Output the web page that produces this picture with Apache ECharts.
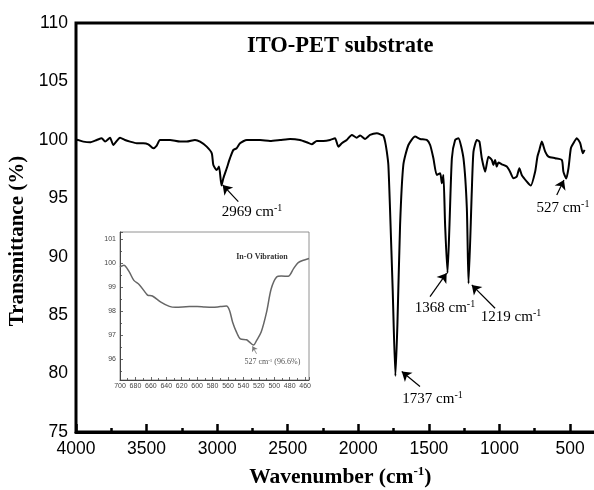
<!DOCTYPE html>
<html>
<head>
<meta charset="utf-8">
<script src="https://cdn.jsdelivr.net/npm/echarts@6/dist/echarts.min.js"></script>
<style>
  html, body { margin: 0; padding: 0; background: #fff; }
  #chart { width: 594px; height: 490px; }
</style>
</head>
<body>
<div id="chart"></div>
<script>
// 主光谱
var wavenumber = [4000, 3995, 3948, 3901, 3853, 3818, 3794, 3759, 3736, 3688, 3653, 3617, 3570, 3523, 3488, 3452, 3428, 3405, 3334, 3263, 3216, 3157, 3121, 3074, 3038, 3027, 3003, 2987, 2969, 2956, 2932, 2909, 2885, 2862, 2838, 2790, 2767, 2696, 2625, 2554, 2483, 2413, 2365, 2330, 2294, 2247, 2200, 2165, 2141, 2117, 2082, 2046, 2011, 1987, 1952, 1917, 1869, 1834, 1822, 1810, 1798, 1787, 1775, 1756, 1737, 1723, 1704, 1681, 1645, 1598, 1562, 1515, 1491, 1468, 1444, 1420, 1408, 1397, 1385, 1368, 1354, 1337, 1314, 1291, 1255, 1231, 1219, 1196, 1184, 1160, 1142, 1125, 1101, 1078, 1054, 1043, 1031, 1019, 1007, 983, 948, 925, 901, 877, 859, 842, 806, 778, 747, 731, 717, 700, 676, 653, 605, 558, 547, 527, 511, 494, 476, 452, 428, 409, 397];
var transmittance = [99.95, 100.0, 99.85, 99.79, 99.99, 100.14, 99.85, 100.19, 99.57, 100.19, 99.99, 99.85, 99.71, 99.71, 99.62, 99.28, 99.51, 99.99, 99.99, 99.85, 99.85, 99.99, 99.85, 99.42, 98.85, 97.85, 97.42, 97.71, 96.1, 96.71, 97.57, 98.43, 99.14, 99.28, 99.71, 99.99, 99.99, 99.99, 99.91, 99.99, 100.08, 99.99, 99.79, 99.62, 99.91, 99.91, 99.99, 100.14, 99.42, 99.71, 99.99, 100.42, 100.19, 100.37, 100.08, 100.42, 100.56, 100.42, 100.35, 99.85, 98.99, 97.85, 94.0, 87.02, 79.8, 84.17, 92.72, 97.85, 99.56, 100.28, 100.08, 99.99, 99.56, 98.43, 97.0, 97.14, 96.29, 97.0, 92.72, 88.6, 92.72, 98.43, 99.99, 100.14, 98.43, 94.15, 87.7, 95.57, 98.99, 99.99, 99.85, 98.43, 97.28, 98.56, 98.28, 97.85, 98.28, 97.71, 98.07, 97.91, 97.71, 97.28, 96.71, 96.86, 97.57, 97.0, 96.43, 96.09, 97.28, 98.56, 99.14, 99.85, 98.99, 98.56, 98.43, 98.28, 97.28, 96.7, 97.57, 99.28, 99.71, 100.14, 99.71, 98.85, 99.14];

// 标注的峰
var peakWavenumber = [2969, 1737, 1368, 1219, 527];

// 插图 (In-O 振动)
var insetWavenumber = [700, 695, 688, 682, 675, 666, 664, 658, 647, 636, 628, 610, 600, 590, 580, 570, 562, 558, 554, 549, 544, 536, 532, 527, 523, 517, 510, 504, 497, 491, 482, 475, 469, 460, 455];
var insetTransmittance = [99.85, 99.92, 99.64, 99.29, 99.11, 98.74, 98.67, 98.64, 98.39, 98.21, 98.17, 98.2, 98.2, 98.18, 98.17, 98.2, 98.22, 98.04, 97.55, 97.14, 96.86, 96.82, 96.72, 96.6, 96.79, 97.14, 97.97, 98.94, 99.43, 99.47, 99.46, 99.78, 100.03, 100.15, 100.2];

var serif = 'Liberation Serif';
var sans = 'Liberation Sans';

// 箭头和文字位置(数据坐标)
var notes = [
  { tip: [2961, 96.14], tail: [2850, 94.71], text: [2753, 93.86] },
  { tip: [1692, 80.17], tail: [1563, 78.89], text: [1474, 77.81] },
  { tip: [1374, 88.59], tail: [1492, 86.59], text: [1386, 85.62] },
  { tip: [1196, 87.59], tail: [1031, 85.59], text: [918, 84.85] },
  { tip: [543, 96.57], tail: [594, 95.29], text: [550, 94.17] }
];

var arrowLines = notes.map(function (n) {
  return [{ coord: n.tail }, { coord: n.tip }];
});
var noteLabels = notes.map(function (n, i) {
  return {
    coord: n.text,
    label: { formatter: '{t|' + peakWavenumber[i] + ' cm}{s|-1}' }
  };
});

var mainData = wavenumber.map(function (w, i) { return [w, transmittance[i]]; });
var insetData = insetWavenumber.map(function (w, i) { return [w, insetTransmittance[i]]; });

var chart = echarts.init(document.getElementById('chart'), null, { renderer: 'canvas' });

var option = {
  animation: false,
  backgroundColor: '#fff',
  title: {
    text: 'ITO-PET substrate',
    left: 247,
    top: 35,
    padding: 0,
    textStyle: { fontFamily: serif, fontWeight: 'bold', fontSize: 22.5, color: '#000' }
  },
  grid: [
    { left: 76, top: 23, width: 564.6, height: 409, outerBoundsMode: 'none', containLabel: false,
      show: true, borderColor: '#000', borderWidth: 3 },
    { left: 120, top: 232, width: 189, height: 148, outerBoundsMode: 'none', containLabel: false,
      show: true, borderColor: '#777', borderWidth: 0.8, backgroundColor: '#fff' }
  ],
  xAxis: [
    {
      gridIndex: 0,
      type: 'value',
      inverse: true,
      min: 0,
      max: 4000,
      interval: 500,
      splitLine: { show: false },
      axisLine: { lineStyle: { color: '#000', width: 3 } },
      axisTick: { inside: true, length: 8, lineStyle: { color: '#000', width: 2.5 } },
      minorTick: { show: true, splitNumber: 2, length: 4, lineStyle: { color: '#000', width: 2.5 } },
      axisLabel: {
        margin: 8, fontFamily: sans, fontSize: 17.5, color: '#000',
        formatter: function (v) { return String(v); }
      },
      name: '{b|Wavenumber (cm}{s|-1}{b|)}',
      nameLocation: 'middle',
      nameGap: 33,
      nameTextStyle: {
        padding: [0, 36, 0, 0],
        rich: {
          b: { fontFamily: serif, fontWeight: 'bold', fontSize: 21.5, color: '#000', lineHeight: 24 },
          s: { fontFamily: serif, fontWeight: 'bold', fontSize: 13, color: '#000', lineHeight: 13, verticalAlign: 'top' }
        }
      }
    },
    {
      gridIndex: 1,
      type: 'value',
      inverse: true,
      min: 455,
      max: 700,
      splitNumber: 12,
      splitLine: { show: false },
      axisLine: { lineStyle: { color: '#444', width: 1 } },
      axisTick: { inside: true, length: 3, lineStyle: { color: '#444', width: 0.8 } },
      minorTick: { show: true, splitNumber: 2, length: 2, lineStyle: { color: '#444', width: 0.8 } },
      axisLabel: {
        margin: 3, fontFamily: sans, fontSize: 7, color: '#444',
        formatter: function (v) { return v % 20 === 0 ? String(v) : ''; }
      }
    }
  ],
  yAxis: [
    {
      gridIndex: 0,
      type: 'value',
      min: 75,
      max: 110,
      interval: 5,
      splitLine: { show: false },
      axisLine: { show: true, lineStyle: { color: '#000', width: 3 } },
      axisTick: { show: true, inside: true, length: 8, lineStyle: { color: '#000', width: 2.5 } },
      minorTick: { show: true, splitNumber: 2, length: 4, lineStyle: { color: '#000', width: 2.5 } },
      axisLabel: { margin: 8, fontFamily: sans, fontSize: 17.5, color: '#000' },
      name: 'Transmittance (%)',
      nameLocation: 'middle',
      nameGap: 43,
      nameTextStyle: { fontFamily: serif, fontWeight: 'bold', fontSize: 21, color: '#000', padding: [0, 27, 0, 0] }
    },
    {
      gridIndex: 1,
      type: 'value',
      min: 95.15,
      max: 101.3,
      splitNumber: 6,
      splitLine: { show: false },
      axisLine: { show: true, lineStyle: { color: '#444', width: 1 } },
      axisTick: { show: true, inside: true, length: 3, lineStyle: { color: '#444', width: 0.8 } },
      minorTick: { show: true, splitNumber: 2, length: 2, lineStyle: { color: '#444', width: 0.8 } },
      axisLabel: {
        margin: 4, fontFamily: sans, fontSize: 7, color: '#444',
        formatter: function (v) { return Number.isInteger(v) ? String(v) : ''; }
      }
    }
  ],
  series: [
    {
      type: 'line',
      xAxisIndex: 0,
      yAxisIndex: 0,
      data: mainData,
      showSymbol: false,
      smooth: 0.2,
      lineStyle: { color: '#000', width: 2 },
      emphasis: { disabled: true },
      markLine: {
        silent: true,
        symbol: ['none', 'arrow'],
        symbolSize: 9,
        label: { show: false },
        lineStyle: { color: '#000', width: 1.2, type: 'solid' },
        data: arrowLines
      },
      markPoint: {
        silent: true,
        symbol: 'rect',
        symbolSize: 1,
        itemStyle: { color: 'rgba(0,0,0,0)' },
        label: {
          show: true,
          position: 'inside',
          rich: {
            t: { fontFamily: serif, fontSize: 15, color: '#000', lineHeight: 17 },
            s: { fontFamily: serif, fontSize: 10, color: '#000', lineHeight: 10, verticalAlign: 'top' }
          }
        },
        data: noteLabels
      }
    },
    {
      type: 'line',
      xAxisIndex: 1,
      yAxisIndex: 1,
      data: insetData,
      showSymbol: false,
      smooth: 0.3,
      lineStyle: { color: '#666', width: 1.5 },
      emphasis: { disabled: true },
      markLine: {
        silent: true,
        symbol: ['none', 'arrow'],
        symbolSize: 5,
        label: { show: false },
        lineStyle: { color: '#777', width: 0.8, type: 'solid' },
        data: [[{ coord: [523, 96.24] }, { coord: [528.3, 96.55] }]]
      },
      markPoint: {
        silent: true,
        symbol: 'rect',
        symbolSize: 1,
        itemStyle: { color: 'rgba(0,0,0,0)' },
        label: { show: true, position: 'inside' },
        data: [
          {
            coord: [516, 100.25],
            label: { formatter: 'In-O Vibration', fontFamily: serif, fontWeight: 'bold', fontSize: 8, color: '#333' }
          },
          {
            coord: [502.5, 95.89],
            label: {
              formatter: '{t|527 cm}{s|-1}{t| (96.6%)}',
              rich: {
                t: { fontFamily: serif, fontSize: 8, color: '#555', lineHeight: 9 },
                s: { fontFamily: serif, fontSize: 5, color: '#555', lineHeight: 5, verticalAlign: 'top' }
              }
            }
          }
        ]
      }
    }
  ]
};

chart.setOption(option);
</script>
</body>
</html>
